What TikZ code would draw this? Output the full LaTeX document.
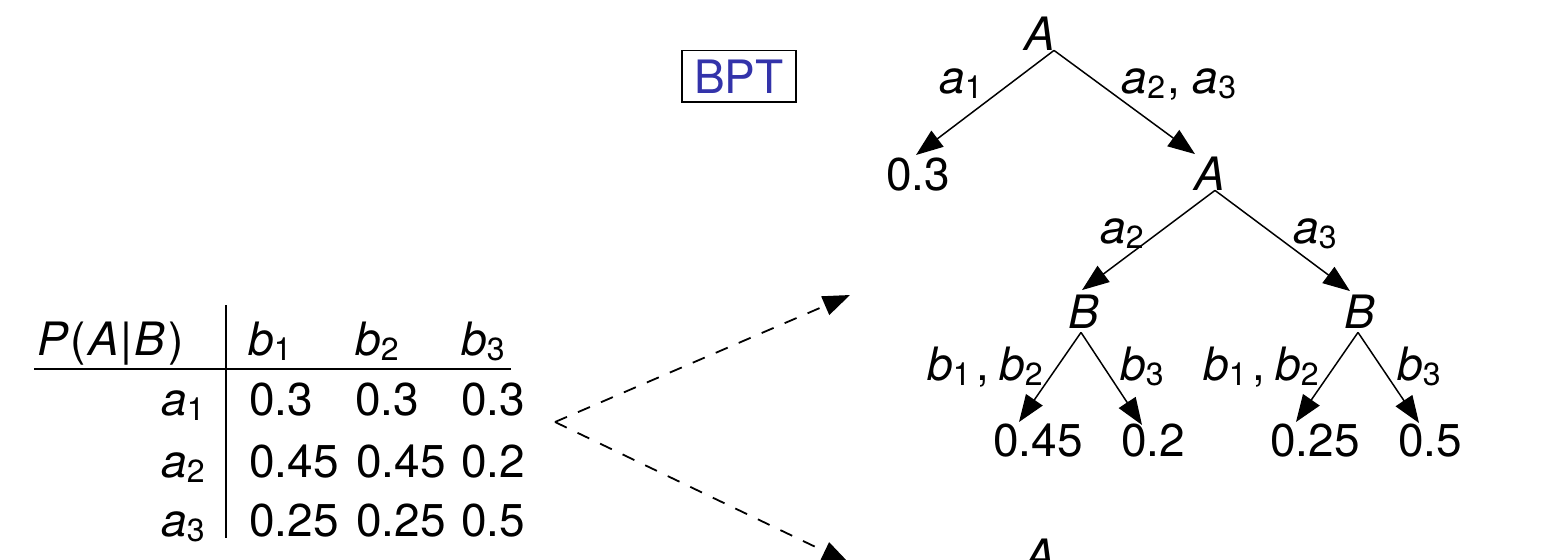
\documentclass[tikz,border=0pt]{standalone}
\usepackage{fontspec}
\setmainfont{TeX Gyre Heros}
\usetikzlibrary{arrows.meta}
\definecolor{bptblue}{RGB}{51,51,170}
\newcommand\sv[2]{\textit{#1}\raisebox{-2.5pt}{\fontsize{16}{16}\selectfont #2}}
\begin{document}
\begin{tikzpicture}[x=0.5pt,y=-0.5pt,
  txt/.style={font=\fontsize{23}{27}\selectfont, inner sep=0pt},
  tedge/.style={line width=0.75pt, -{Triangle[length=13.5pt,width=10pt]}},
  forkline/.style={line width=0.9pt, dash pattern=on 6.5pt off 6pt, -{Triangle[length=13.5pt,width=10pt]}},
  tablerule/.style={line width=1pt}]
\clip (0,0) rectangle (1551,559);

% ---------- table ----------
\node[txt,anchor=base west] (th) at (37,355) {\textit{P}\kern1pt(\kern1pt\textit{A}\kern1pt|\kern1pt\textit{B}\kern1.5pt)};
\node[txt,anchor=base west] (tb1) at (248,355) {\sv{b}{1}};
\node[txt,anchor=base west] (tb2) at (355,355) {\sv{b}{2}};
\node[txt,anchor=base west] (tb3) at (461,355) {\sv{b}{3}};
\node[txt,anchor=base east] (ta1) at (205,415) {\sv{a}{1}};
\node[txt,anchor=base east] (ta2) at (205,477) {\sv{a}{2}};
\node[txt,anchor=base east] (ta3) at (205,536) {\sv{a}{3}};
\node[txt,anchor=base west] (v11) at (249,415) {0.3};
\node[txt,anchor=base west] (v12) at (355,415) {0.3};
\node[txt,anchor=base west] (v13) at (461,415) {0.3};
\node[txt,anchor=base west] (v21) at (249,477) {0.45};
\node[txt,anchor=base west] (v22) at (356,477) {0.45};
\node[txt,anchor=base west] (v23) at (461,477) {0.2};
\node[txt,anchor=base west] (v31) at (249,536) {0.25};
\node[txt,anchor=base west] (v32) at (356,536) {0.25};
\node[txt,anchor=base west] (v33) at (461,536) {0.5};
\draw[tablerule] (226,305) -- (226,538);
\draw[tablerule] (34,369) -- (511,369);

% ---------- dashed fork ----------
\coordinate (forkpt) at (555,422);
\coordinate (uptgt) at (850,295);
\coordinate (downtgt) at (849,563);
\draw[forkline] (forkpt) -- (uptgt);
\draw[forkline] (forkpt) -- (downtgt);

% ---------- BPT box ----------
\node[txt,anchor=base,draw,line width=0.75pt,inner ysep=4.5pt,minimum width=57pt,text=bptblue] (bpt) at (739,93) {BPT};

% ---------- tree ----------
\node[txt,anchor=base] (A0) at (1040,50) {\textit{A}};
\node[txt,anchor=base] (L03) at (918,190) {0.3};
\node[txt,anchor=base] (A1) at (1210,190) {\textit{A}};
\node[txt,anchor=base] (B1) at (1084,328) {\textit{B}};
\node[txt,anchor=base] (B2) at (1360,328) {\textit{B}};
\node[txt,anchor=base] (L045) at (1038,456) {0.45};
\node[txt,anchor=base] (L02) at (1153,456) {0.2};
\node[txt,anchor=base] (L025) at (1315,456) {0.25};
\node[txt,anchor=base] (L05) at (1430,456) {0.5};
\node[txt,anchor=base] (A2) at (1040,572) {\textit{A}};

\draw[tedge] ([xshift=7pt]A0.south) -- ([xshift=-1pt,yshift=1pt]L03.north);
\draw[tedge] ([xshift=7pt]A0.south) -- ([xshift=-7.5pt,yshift=1pt]A1.north);
\draw[tedge] ([xshift=2.5pt]A1.south) -- ([xshift=-1pt,yshift=2pt]B1.north);
\draw[tedge] ([xshift=2.5pt]A1.south) -- ([xshift=-5pt,yshift=1.5pt]B2.north);
\draw[tedge] ([xshift=-1.5pt,yshift=-2pt]B1.south) -- ([xshift=-9.5pt,yshift=0.5pt]L045.north);
\draw[tedge] ([xshift=-1.5pt,yshift=-2pt]B1.south) -- ([xshift=-5.5pt,yshift=-1pt]L02.north);
\draw[tedge] ([xshift=-1pt,yshift=-2pt]B2.south) -- ([xshift=-9.5pt,yshift=0.5pt]L025.north);
\draw[tedge] ([xshift=-1pt,yshift=-2pt]B2.south) -- ([xshift=-5.5pt,yshift=0pt]L05.north);

% edge labels
\node[txt,anchor=base] (la1) at (961,93) {\sv{a}{1}};
\node[txt,anchor=base] (la23) at (1179,93) {\sv{a}{2}\kern1pt, \sv{a}{3}};
\node[txt,anchor=base] (la2) at (1122,243) {\sv{a}{2}};
\node[txt,anchor=base] (la3) at (1315,243) {\sv{a}{3}};
\node[txt,anchor=base] (lb12l) at (985,380) {\sv{b}{1}\kern3pt,\kern5pt\sv{b}{2}};
\node[txt,anchor=base] (lb3l) at (1142,380) {\sv{b}{3}};
\node[txt,anchor=base] (lb12r) at (1261,380) {\sv{b}{1}\kern3pt,\kern5pt\sv{b}{2}};
\node[txt,anchor=base] (lb3r) at (1419,380) {\sv{b}{3}};
\end{tikzpicture}
\end{document}
